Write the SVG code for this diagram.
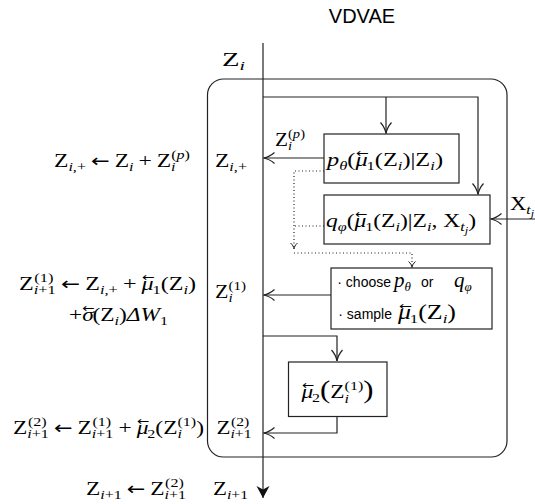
<svg xmlns="http://www.w3.org/2000/svg" width="535" height="504" viewBox="0 0 535 504">
<style>
.m{font-family:"Liberation Serif","Times New Roman",serif;font-size:19px;fill:#000}
.s{font-size:13px}
.ss{font-size:10px}
.i{font-style:italic}
.acc{font-family:"DejaVu Sans",sans-serif;font-size:12px;font-style:normal}
.ar{font-family:"DejaVu Sans",sans-serif;font-size:18px}
.sa{font-family:"Liberation Sans",Arial,sans-serif;font-size:14px;fill:#000}
.ln{fill:none;stroke:#222;stroke-width:1.2}
.dot{fill:none;stroke:#222;stroke-width:1.2;stroke-dasharray:1 2.5}
.box{fill:#fff;stroke:#222;stroke-width:1.2}
</style>
<defs>
<marker id="to" viewBox="-12 -7 14 14" refX="0" refY="0" markerWidth="14" markerHeight="14" markerUnits="userSpaceOnUse" orient="auto" overflow="visible">
<path d="M-11,-5.5 C-7,-2 -3,-0.5 0,0 C-3,0.5 -7,2 -11,5.5" fill="none" stroke="#222" stroke-width="1.2"/>
</marker>
<marker id="tos" viewBox="-8 -5 10 10" refX="0" refY="0" markerWidth="10" markerHeight="10" markerUnits="userSpaceOnUse" orient="auto" overflow="visible">
<path d="M-6,-3.5 C-4,-1.2 -2,-0.3 0,0 C-2,0.3 -4,1.2 -6,3.5" fill="none" stroke="#222" stroke-width="1"/>
</marker>
<marker id="st" viewBox="-13 -7 14 14" refX="0" refY="0" markerWidth="14" markerHeight="14" markerUnits="userSpaceOnUse" orient="auto" overflow="visible">
<path d="M-12,-6.5 L0,0 L-12,6.5 L-8.5,0 Z" fill="#111"/>
</marker>
</defs>

<text class="sa" x="362" y="23" text-anchor="middle" style="font-size:20px">VDVAE</text>

<g id="frame">
<rect x="207.5" y="79" width="299.5" height="378" rx="16" class="ln"/>
</g>

<g id="connectors">
<path class="ln" d="M263,43 V498" marker-end="url(#st)"/>
<path class="ln" d="M263,97 H478 V194.5" marker-end="url(#to)"/>
<path class="ln" d="M386,97 V133.5" marker-end="url(#to)"/>
<path class="ln" d="M324,158 H263.5" marker-end="url(#to)"/>
<path class="ln" d="M535,219 H490.5" marker-end="url(#to)"/>
<path class="dot" d="M324,171 H294 V249" marker-end="url(#tos)"/>
<path class="dot" d="M324,226 H294"/>
<path class="dot" d="M294,253 H412 V267.5" marker-end="url(#tos)"/>
<path class="ln" d="M331,295 H263.5" marker-end="url(#to)"/>
<path class="ln" d="M263,336 H337 V361" marker-end="url(#to)"/>
<path class="ln" d="M337,416.5 V433 H263.5" marker-end="url(#to)"/>
</g>

<g id="p-box">
<rect x="324" y="134" width="135" height="49" class="box"/>
<text class="m" x="327" y="166" textLength="116" lengthAdjust="spacingAndGlyphs"><tspan class="i">p</tspan><tspan class="s i" dy="4">θ</tspan><tspan dy="-4">(</tspan><tspan class="i">μ</tspan><tspan class="acc" dx="-9" dy="-9">←</tspan><tspan class="s" dx="-2" dy="13">1</tspan><tspan dy="-4">(Z</tspan><tspan class="s i" dy="4">i</tspan><tspan dy="-4">)|Z</tspan><tspan class="s i" dy="4">i</tspan><tspan dy="-4">)</tspan></text>
</g>

<g id="q-box">
<rect x="324" y="195" width="166" height="49" class="box"/>
<text class="m" x="326" y="227" textLength="150" lengthAdjust="spacingAndGlyphs"><tspan class="i">q</tspan><tspan class="s i" dy="4">φ</tspan><tspan dy="-4">(</tspan><tspan class="i">μ</tspan><tspan class="acc" dx="-9" dy="-9">←</tspan><tspan class="s" dx="-2" dy="13">1</tspan><tspan dy="-4">(Z</tspan><tspan class="s i" dy="4">i</tspan><tspan dy="-4">)|Z</tspan><tspan class="s i" dy="4">i</tspan><tspan dy="-4">, X</tspan><tspan class="s i" dy="4">t</tspan><tspan class="ss i" dy="3">j</tspan><tspan dy="-7">)</tspan></text>
</g>

<g id="choose-box">
<rect x="331" y="268" width="161" height="61" class="box"/>
<text class="sa" x="391" y="287" text-anchor="end">· choose</text>
<text class="m i" x="394" y="287" style="font-size:21px">p<tspan class="s" dy="4">θ</tspan></text>
<text class="sa" x="421" y="287">or</text>
<text class="m i" x="454" y="287" style="font-size:21px">q<tspan class="s" dy="4">φ</tspan></text>
<text class="sa" x="392" y="319" text-anchor="end">· sample</text>
<text class="m" x="398" y="319" textLength="58" lengthAdjust="spacingAndGlyphs" style="font-size:20px"><tspan class="i">μ</tspan><tspan class="acc" dx="-9" dy="-9">←</tspan><tspan class="s" dx="-2" dy="13">1</tspan><tspan dy="-4">(Z</tspan><tspan class="s i" dy="4">i</tspan><tspan dy="-4">)</tspan></text>
</g>

<g id="mu2-box">
<rect x="288.5" y="362" width="98.5" height="54.5" class="box"/>
<text class="m" x="301.5" y="398" textLength="72" lengthAdjust="spacingAndGlyphs"><tspan class="i">μ</tspan><tspan class="acc" dx="-9" dy="-9">←</tspan><tspan class="s" dx="-2" dy="13">2</tspan><tspan dy="-4" style="font-size:25px">(</tspan><tspan>Z</tspan><tspan class="s i" dy="5">i</tspan><tspan class="s" dx="-3.6" dy="-13">(1)</tspan><tspan dy="8" style="font-size:25px">)</tspan></text>
</g>

<g id="labels">
<text class="m" x="222" y="66" textLength="23" lengthAdjust="spacingAndGlyphs">Z<tspan class="s i" dy="4">i</tspan></text>
<text class="m" x="275" y="146" textLength="30" lengthAdjust="spacingAndGlyphs">Z<tspan class="s i" dy="4">i</tspan><tspan class="s" dx="-3.6" dy="-12">(<tspan class="i">p</tspan>)</tspan></text>
<text class="m" x="510" y="210" textLength="24" lengthAdjust="spacingAndGlyphs">X<tspan class="s i" dy="4">t</tspan><tspan class="ss i" dy="3">j</tspan></text>
<text class="m" x="215" y="167" textLength="32" lengthAdjust="spacingAndGlyphs">Z<tspan class="s" dy="4"><tspan class="i">i</tspan>,+</tspan></text>
<text class="m" x="215" y="298" textLength="31" lengthAdjust="spacingAndGlyphs">Z<tspan class="s i" dy="4">i</tspan><tspan class="s" dx="-3.6" dy="-12">(1)</tspan></text>
<text class="m" x="216.5" y="434" textLength="35" lengthAdjust="spacingAndGlyphs">Z<tspan class="s" dy="4"><tspan class="i">i</tspan>+1</tspan><tspan class="s" dx="-17" dy="-12">(2)</tspan></text>
<text class="m" x="213" y="495" textLength="35" lengthAdjust="spacingAndGlyphs">Z<tspan class="s" dy="4"><tspan class="i">i</tspan>+1</tspan></text>
</g>

<g id="equations">
<text class="m" x="54" y="167" textLength="136" lengthAdjust="spacingAndGlyphs">Z<tspan class="s" dy="4"><tspan class="i">i</tspan>,+</tspan><tspan class="ar" dx="4" dy="-4">←</tspan><tspan dx="4">Z</tspan><tspan class="s i" dy="4">i</tspan><tspan dx="4" dy="-4">+</tspan><tspan dx="4">Z</tspan><tspan class="s i" dy="4">i</tspan><tspan class="s" dx="-3.6" dy="-12">(<tspan class="i">p</tspan>)</tspan></text>
<text class="m" x="19" y="290" textLength="177" lengthAdjust="spacingAndGlyphs">Z<tspan class="s" dy="4"><tspan class="i">i</tspan>+1</tspan><tspan class="s" dx="-17" dy="-12">(1)</tspan><tspan class="ar" dx="6" dy="8">←</tspan><tspan dx="4">Z</tspan><tspan class="s" dy="4"><tspan class="i">i</tspan>,+</tspan><tspan dx="4" dy="-4">+</tspan><tspan class="i" dx="4">μ</tspan><tspan class="acc" dx="-9" dy="-9">←</tspan><tspan class="s" dx="-2" dy="13">1</tspan><tspan dy="-4">(Z</tspan><tspan class="s i" dy="4">i</tspan><tspan dy="-4">)</tspan></text>
<text class="m" x="69" y="321" textLength="99" lengthAdjust="spacingAndGlyphs">+<tspan class="i">σ</tspan><tspan class="acc" dx="-9" dy="-9">←</tspan><tspan dx="-2" dy="9">(Z</tspan><tspan class="s i" dy="4">i</tspan><tspan dy="-4">)</tspan><tspan class="i">ΔW</tspan><tspan class="s" dy="4">1</tspan></text>
<text class="m" x="13" y="434" textLength="191" lengthAdjust="spacingAndGlyphs">Z<tspan class="s" dy="4"><tspan class="i">i</tspan>+1</tspan><tspan class="s" dx="-17" dy="-12">(2)</tspan><tspan class="ar" dx="6" dy="8">←</tspan><tspan dx="4">Z</tspan><tspan class="s" dy="4"><tspan class="i">i</tspan>+1</tspan><tspan class="s" dx="-17" dy="-12">(1)</tspan><tspan dx="6" dy="8">+</tspan><tspan class="i" dx="4">μ</tspan><tspan class="acc" dx="-9" dy="-9">←</tspan><tspan class="s" dx="-2" dy="13">2</tspan><tspan dy="-4">(Z</tspan><tspan class="s i" dy="4">i</tspan><tspan class="s" dx="-3.6" dy="-12">(1)</tspan><tspan dy="8">)</tspan></text>
<text class="m" x="86" y="495" textLength="100" lengthAdjust="spacingAndGlyphs">Z<tspan class="s" dy="4"><tspan class="i">i</tspan>+1</tspan><tspan class="ar" dx="4" dy="-4">←</tspan><tspan dx="4">Z</tspan><tspan class="s" dy="4"><tspan class="i">i</tspan>+1</tspan><tspan class="s" dx="-17" dy="-12">(2)</tspan></text>
</g>
</svg>
